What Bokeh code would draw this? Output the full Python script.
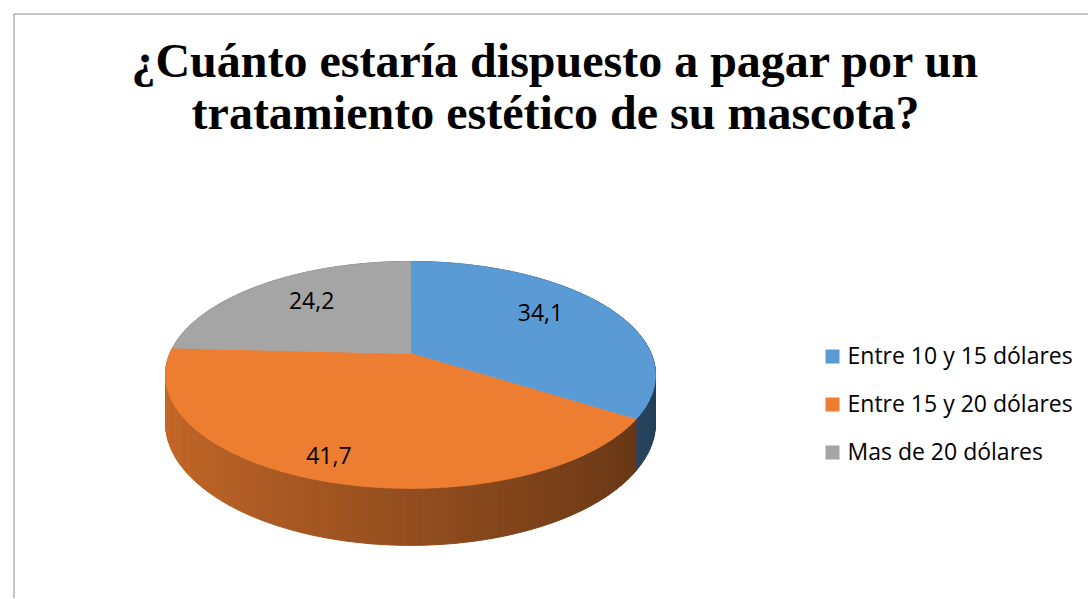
import math
import numpy as np
from bokeh.plotting import figure
from bokeh.models import Range1d, ColumnDataSource
from bokeh.embed import file_html
from bokeh.resources import INLINE
from bokeh.core.properties import value

# ---------------- data ----------------
title_lines = ["¿Cuánto estaría dispuesto a pagar por un",
               "tratamiento estético de su mascota?"]
categories = ["Entre 10 y 15 dólares", "Entre 15 y 20 dólares", "Mas de 20 dólares"]
values = [34.1, 41.7, 24.2]
value_labels = ["34,1", "41,7", "24,2"]
colors = ["#5B9BD5", "#ED7D31", "#A5A5A5"]

# ---------------- layout ----------------
W, H = 1088, 598
OX, OY = 0, 0                 # data coords == window pixels
CX, CY = 410.0, 353.0         # pie centre (top face)
RX, RY = 240.6, 109.4         # radii of the tilted disc
K = 0.189                     # perspective strength
DEPTH = 46.2                  # thickness of the pie
START = 90.0                  # first slice starts at 12 o'clock, clockwise
LABEL_R = [0.704, 0.849, 0.690]
LABEL_DA = [5.8, -2.0, -2.7]
BASE_FIX = 0.38               # em offset of rendered alphabetic baseline

FONT = "Open Sans"
TITLE_PX = 48
TXT_PX = 23


def proj(theta_deg, r=1.0, drop=0.0):
    t = np.radians(theta_deg)
    u = r * np.cos(t)
    v = r * np.sin(t)
    s = 1.0 / (1.0 + K * v)
    return CX + RX * u * s, CY - RY * v * s + drop * s


def shade(hexcol, f):
    h = hexcol.lstrip("#")
    rgb = [int(h[i:i + 2], 16) for i in (0, 2, 4)]
    return "#%02x%02x%02x" % tuple(max(0, min(255, int(round(c * f)))) for c in rgb)


p = figure(width=W, height=H,
           x_range=Range1d(OX, OX + W), y_range=Range1d(OY + H, OY),
           x_axis_type=None, y_axis_type=None,
           output_backend="svg", toolbar_location=None, min_border=0)
p.grid.visible = False
p.outline_line_color = None
p.background_fill_color = "white"
p.border_fill_color = "white"

# chart frame (top and left edges visible in window)
p.line([13.5, 1200], [13.5, 13.5], line_color="#8c8c8c", line_width=1)
p.line([13.5, 13.5], [13.5, 700], line_color="#8c8c8c", line_width=1)

# title
tfix = BASE_FIX * TITLE_PX
p.text(x=[555, 555], y=[78 - tfix, 130 - tfix], text=title_lines,
       text_font=value("Liberation Serif"), text_font_style="bold",
       text_font_size=f"{TITLE_PX}px", text_align="center", text_baseline="alphabetic",
       text_color="black")

# slice angles
total = float(sum(values))
bounds = []
a = START
for v in values:
    span = v / total * 360.0
    bounds.append((a, a - span))
    a -= span

# side walls: small quads, painted far-to-near
quads = []
for (a0, a1), col in zip(bounds, colors):
    n = int(math.ceil((a0 - a1) / 1.0))
    th = np.linspace(a0, a1, n + 1)
    for t1, t2 in zip(th[:-1], th[1:]):
        x1, y1 = proj(t1)
        x2, y2 = proj(t2)
        xb1, yb1 = proj(t1, drop=DEPTH)
        xb2, yb2 = proj(t2, drop=DEPTH)
        mid = np.radians((t1 + t2) / 2.0)
        f = 0.62 - 0.215 * math.cos(mid)
        quads.append((math.sin(mid), [x1, x2, xb2, xb1], [y1, y2, yb2, yb1], shade(col, f)))
quads.sort(key=lambda q: -q[0])
side_src = ColumnDataSource(dict(xs=[q[1] for q in quads], ys=[q[2] for q in quads],
                                 c=[q[3] for q in quads]))
p.patches("xs", "ys", source=side_src, fill_color="c", line_color="c", line_width=1)

# top faces
txs, tys = [], []
for (a0, a1) in bounds:
    th = np.linspace(a0, a1, 240)
    x, y = proj(th)
    txs.append([CX] + list(x))
    tys.append([CY] + list(y))
top_src = ColumnDataSource(dict(xs=txs, ys=tys, c=colors))
p.patches("xs", "ys", source=top_src, fill_color="c", line_color="c", line_width=0.8)

# value labels
sfix = BASE_FIX * TXT_PX
lx, ly = [], []
for (a0, a1), r, da in zip(bounds, LABEL_R, LABEL_DA):
    x, y = proj((a0 + a1) / 2.0 + da, r=r)
    lx.append(float(x))
    ly.append(float(y) + 8 - sfix)
p.text(x=lx, y=ly, text=value_labels, text_font=value(FONT), text_font_size=f"{TXT_PX}px",
       text_align="center", text_baseline="alphabetic", text_color="black")

# legend
LEG_X, LEG_Y0, LEG_DY, SQ = 832, 356, 48, 14
leg_y = [LEG_Y0 + i * LEG_DY for i in range(len(categories))]
p.rect(x=[LEG_X] * len(categories), y=leg_y, width=SQ, height=SQ,
       fill_color=colors, line_color=None)
p.text(x=[LEG_X + 15] * len(categories), y=[yy + 7.5 - sfix for yy in leg_y], text=categories,
       text_font=value(FONT), text_font_size=f"{TXT_PX}px", text_align="left",
       text_baseline="alphabetic", text_color="black")

open("out.html", "w").write(file_html(p, INLINE))
